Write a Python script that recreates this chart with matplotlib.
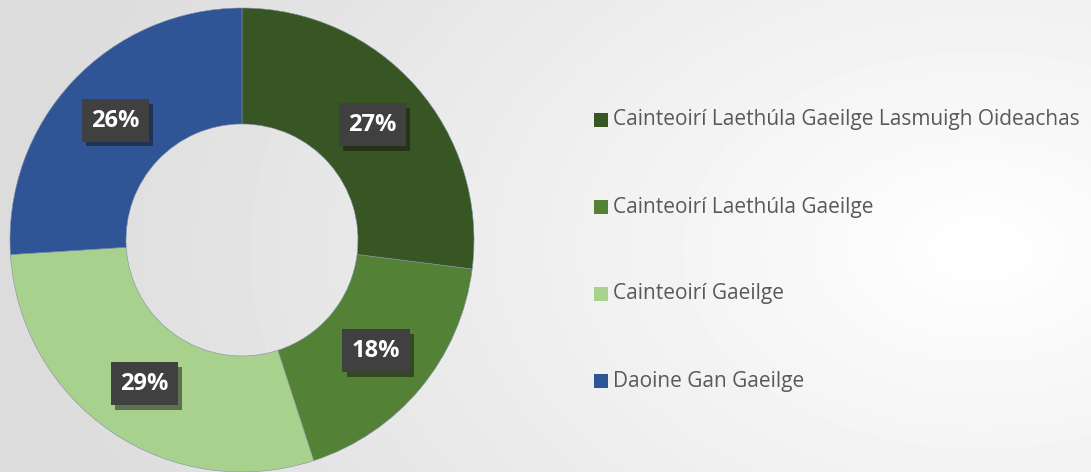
import numpy as np
import matplotlib.pyplot as plt
import matplotlib.patheffects as pe
from matplotlib.patches import Rectangle

labels = ['Cainteoirí Laethúla Gaeilge Lasmuigh Oideachas', 'Cainteoirí Laethúla Gaeilge',
          'Cainteoirí Gaeilge', 'Daoine Gan Gaeilge']
values = [27, 18, 29, 26]
colors = ['#375623', '#538135', '#a9d18e', '#2f5597']

W, H = 1091, 472
fig = plt.figure(figsize=(W / 100, H / 100), dpi=100)

# radial background, white on the right
bg = fig.add_axes([0, 0, 1, 1])
yy, xx = np.mgrid[0:H, 0:W]
d = np.hypot((xx - 980) / 900, (yy - 250) / 600)
shade = np.clip(1 - 0.13 * d, 0.86, 1)
bg.imshow(shade, cmap='gray', vmin=0, vmax=1, aspect='auto', extent=[0, W, H, 0])
bg.axis('off')

cx, cy, r = 242, 240, 232
ax = fig.add_axes([(cx - r) / W, (H - cy - r) / H, 2 * r / W, 2 * r / H])
wedges, _ = ax.pie(values, colors=colors, startangle=90, counterclock=False,
                   radius=1, wedgeprops=dict(width=0.5, edgecolor='#7f8fa6', linewidth=0.4))
ax.set_xlim(-1, 1)
ax.set_ylim(-1, 1)
ax.axis('off')

for w, v in zip(wedges, values):
    ang = np.deg2rad((w.theta1 + w.theta2) / 2)
    t = ax.text(0.75 * np.cos(ang), 0.75 * np.sin(ang), f'{v}%', ha='center', va='center',
                color='white', fontsize=17, fontweight='bold', family='Open Sans',
                bbox=dict(boxstyle='square,pad=0.4', facecolor='#404040', edgecolor='none'))
    t.get_bbox_patch().set_path_effects([pe.SimplePatchShadow(offset=(3, -3), alpha=0.5),
                                         pe.Normal()])

for i, (lab, c) in enumerate(zip(labels, colors)):
    y = 120 + 87 * i
    fig.patches.append(Rectangle(((594) / W, (H - y - 7) / H), 14 / W, 14 / H,
                                 transform=fig.transFigure, facecolor=c, figure=fig))
    fig.text(613 / W, (H - y) / H, lab, ha='left', va='center', fontsize=15,
             color='#595959', family='Open Sans')

fig.savefig('out.png', dpi=100)
